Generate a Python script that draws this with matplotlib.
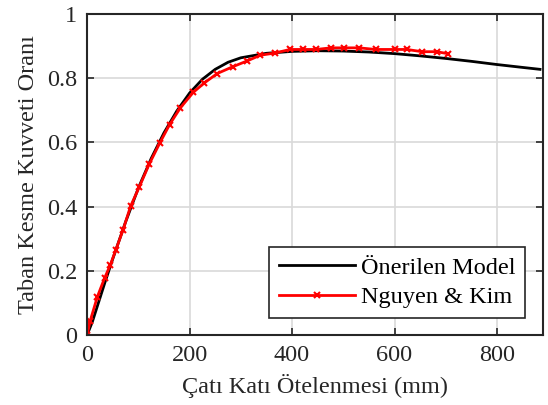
import numpy as np
import matplotlib.pyplot as plt

plt.rcParams['font.family'] = ['Liberation Serif', 'DejaVu Serif']

# Önerilen Model (black curve)
model_x = [0, 10, 20, 35, 50, 75, 100, 125, 150, 175, 200, 225, 250, 275, 300, 350,
           400, 450, 500, 550, 600, 650, 700, 750, 800, 850, 884]
model_y = [0, 0.040, 0.090, 0.165, 0.237, 0.352, 0.458, 0.550, 0.630, 0.698, 0.754,
           0.797, 0.828, 0.850, 0.864, 0.878, 0.884, 0.886, 0.885, 0.882, 0.877,
           0.870, 0.862, 0.853, 0.843, 0.834, 0.828]

# Nguyen & Kim (red, x markers)
nk_x = [0, 6, 20, 34, 45, 56, 70, 85, 102, 121, 142, 161, 182, 207, 229, 254, 284,
        312, 338, 367, 396, 421, 447, 476, 501, 531, 563, 600, 624, 654, 682, 704]
nk_y = [0, 0.044, 0.119, 0.177, 0.217, 0.265, 0.327, 0.402, 0.462, 0.532, 0.599,
        0.656, 0.708, 0.756, 0.786, 0.815, 0.836, 0.854, 0.872, 0.879, 0.890, 0.890,
        0.890, 0.895, 0.895, 0.895, 0.890, 0.890, 0.890, 0.883, 0.883, 0.877]

fig = plt.figure(figsize=(5.48, 4.05), dpi=100)
ax = fig.add_axes([0.159, 0.173, 0.832, 0.792])

ax.plot(model_x, model_y, color='black', lw=2, label='Önerilen Model')
ax.plot(nk_x, nk_y, color='red', lw=2, marker='x', markersize=4, mew=1.5,
        label='Nguyen & Kim')

ax.set_xlim(0, 890)
ax.set_ylim(0, 1)
ax.set_xticks([0, 200, 400, 600, 800])
ax.set_yticks([0, 0.2, 0.4, 0.6, 0.8, 1])
ax.set_yticklabels(['0', '0.2', '0.4', '0.6', '0.8', '1'])
ax.grid(True, color='#d9d9d9', lw=1.2)
ax.set_axisbelow(True)
ax.tick_params(direction='in', top=True, right=True, labelsize=17.5, length=5,
               width=1.2, colors='#262626')
ax.tick_params(axis='x', pad=7)
ax.tick_params(axis='y', pad=7)
for s in ax.spines.values():
    s.set_linewidth(1.5)
    s.set_color('#262626')

ax.set_xlabel('Çatı Katı Ötelenmesi (mm)', fontsize=17.5, color='#262626', labelpad=6)
ax.set_ylabel('Taban Kesme Kuvveti Oranı', fontsize=17.5, color='#262626', labelpad=6)

leg = ax.legend(loc='lower right', fontsize=17.5, fancybox=False, edgecolor='#262626',
                framealpha=1, handlelength=3.1, borderpad=0.4, labelspacing=0.3,
                handletextpad=0.25, borderaxespad=0, bbox_to_anchor=(0.96, 0.053))
leg.get_frame().set_linewidth(1.2)

fig.savefig('out.png', dpi=100)
